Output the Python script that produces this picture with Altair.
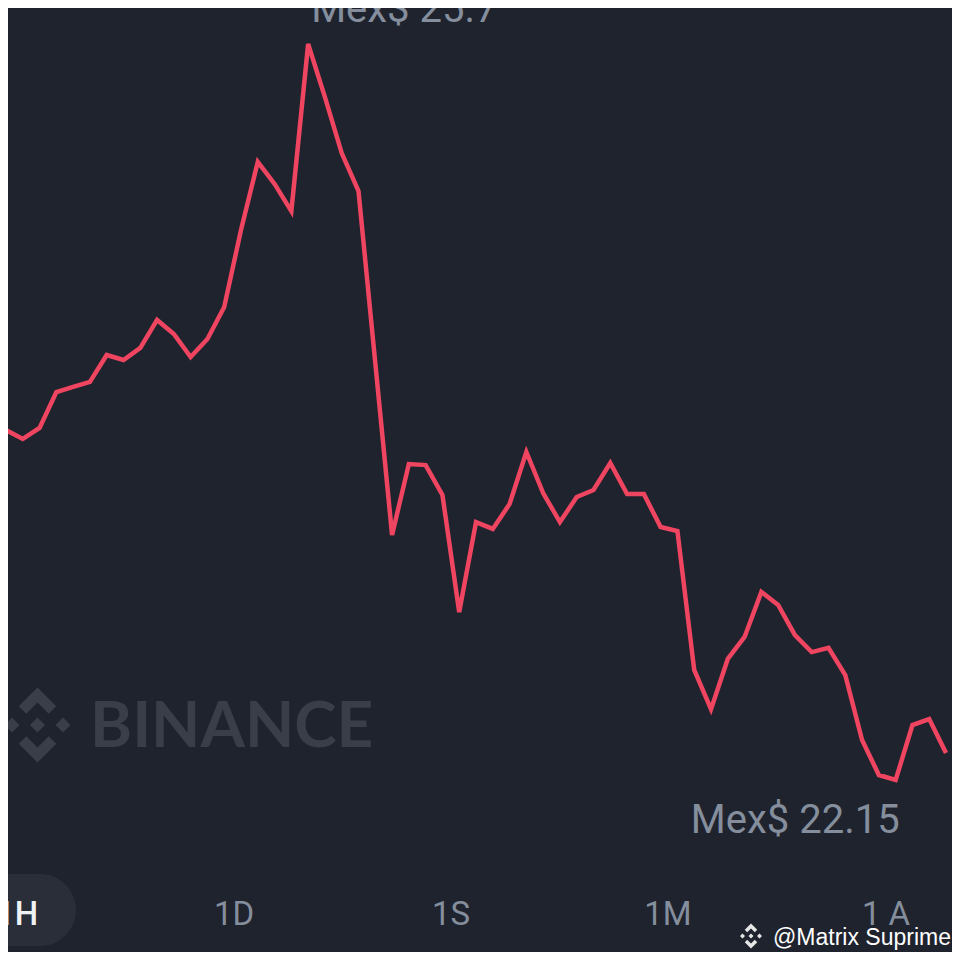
import altair as alt
import pandas as pd

# ---- data ----
idx = [0, 1, 2, 3, 4, 5, 6, 7, 8, 9, 10, 11, 12, 13, 14, 15, 16, 17, 18, 19, 20, 21,
       23, 24, 25, 26, 27, 28, 29, 30, 31, 32, 33, 34, 35, 36, 37, 38, 39, 40,
       41, 42, 43, 44, 45, 46, 47, 48, 49, 50, 51, 52, 53, 54, 55, 56]
price = [23.838, 23.795, 23.848, 24.021, 24.046, 24.070, 24.200, 24.176, 24.234, 24.369,
         24.301, 24.190, 24.277, 24.431, 24.803, 25.131, 25.025, 24.894, 25.700, 25.444,
         25.174, 24.991,
         23.332, 23.674, 23.669, 23.525, 22.960, 23.394, 23.361, 23.481, 23.732, 23.534,
         23.394, 23.515, 23.549, 23.679, 23.529, 23.529, 23.370, 23.351,
         22.681, 22.492, 22.734, 22.840, 23.057, 22.994, 22.849, 22.767, 22.787, 22.656,
         22.343, 22.174, 22.150, 22.415, 22.444, 22.280]
tabs = ["1H", "1D", "1S", "1M", "1 A"]
currency = "Mex$"
brand = "BINANCE"
credit = "@Matrix Suprime"

BG = "#1f232e"
RED = "#ef4560"
GREY = "#848e9c"
WM = "#3a3e49"
W, H = 944, 944

df = pd.DataFrame({"i": idx, "p": price})
hi = df.loc[df["p"].idxmax()]
lo = df.loc[df["p"].idxmin()]
df_hi = pd.DataFrame({"i": [hi["i"]], "p": [hi["p"]], "t": [f"{currency} {hi['p']:g}"]})
df_lo = pd.DataFrame({"i": [lo["i"]], "p": [lo["p"]], "t": [f"{currency} {lo['p']:g}"]})

xs = alt.Scale(domain=[0.1192, 56.357], nice=False, zero=False)
ys = alt.Scale(domain=[21.3204, 25.8736], nice=False, zero=False)
X = alt.X("i:Q", scale=xs, axis=None)
Y = alt.Y("p:Q", scale=ys, axis=None)

line = alt.Chart(df).mark_line(color=RED, strokeWidth=4.5, strokeJoin="miter",
                               strokeMiterLimit=4, clip=True).encode(x=X, y=Y)

hi_txt = alt.Chart(df_hi).mark_text(font="Roboto", fontSize=40, color=GREY, align="left",
                                    baseline="alphabetic", dx=3, dy=-22).encode(x=X, y=Y, text="t:N")
lo_txt = alt.Chart(df_lo).mark_text(font="Roboto", fontSize=40, color=GREY, align="right",
                                    baseline="alphabetic", dx=4, dy=53).encode(x=X, y=Y, text="t:N")

one = pd.DataFrame({"a": [0]})

# Binance logo shape (unit square [-1,1])
LOGO = ("M0,-0.2L0.2,0L0,0.2L-0.2,0Z "
        "M-0.88,0L-0.68,-0.2L-0.48,0L-0.68,0.2Z "
        "M0.48,0L0.68,-0.2L0.88,0L0.68,0.2Z "
        "M0,-1L0.5,-0.5L0.3,-0.3L0,-0.6L-0.3,-0.3L-0.5,-0.5Z "
        "M0,1L0.5,0.5L0.3,0.3L0,0.6L-0.3,0.3L-0.5,0.5Z")

big_logo = alt.Chart(one).mark_point(shape=LOGO, filled=True, color=WM, opacity=1,
                                     size=5625, strokeWidth=0).encode(
    x=alt.value(29.5), y=alt.value(717))
brand_txt = alt.Chart(one).mark_text(text=brand, font="Lato", fontWeight="bold", fontSize=64,
                                     color=WM, align="left",
                                     baseline="alphabetic").encode(x=alt.value(82), y=alt.value(739))

pill = alt.Chart(one).mark_rect(color="#2a2e38", cornerRadius=36).encode(
    x=alt.value(-90), x2=alt.value(68), y=alt.value(866), y2=alt.value(938))

tab_x = [9, 226, 443, 660, 878]
tab_layers = []
for k, (lab, tx) in enumerate(zip(tabs, tab_x)):
    tab_layers.append(
        alt.Chart(one).mark_text(text=lab, font="Roboto", fontSize=33,
                                 fontWeight=500 if k == 0 else 400,
                                 color="#f0f1f3" if k == 0 else GREY,
                                 align="center", baseline="alphabetic").encode(
            x=alt.value(tx), y=alt.value(917)))

small_logo = alt.Chart(one).mark_point(shape=LOGO, filled=True, color="#e6e6e6", opacity=1,
                                       size=625, strokeWidth=0).encode(
    x=alt.value(743), y=alt.value(928))
credit_txt = alt.Chart(one).mark_text(text=credit, font="Liberation Sans", fontSize=23,
                                      color="#ffffff", align="right",
                                      baseline="alphabetic").encode(x=alt.value(943), y=alt.value(937))

chart = alt.layer(big_logo, brand_txt, line, hi_txt, lo_txt, pill, *tab_layers,
                  small_logo, credit_txt).properties(
    width=W, height=H, background=BG, padding=0,
    autosize=alt.AutoSizeParams(type="none"),
).configure_view(stroke=None, fill=BG)

chart.save("out.html", embed_options={"renderer": "svg", "actions": False})
